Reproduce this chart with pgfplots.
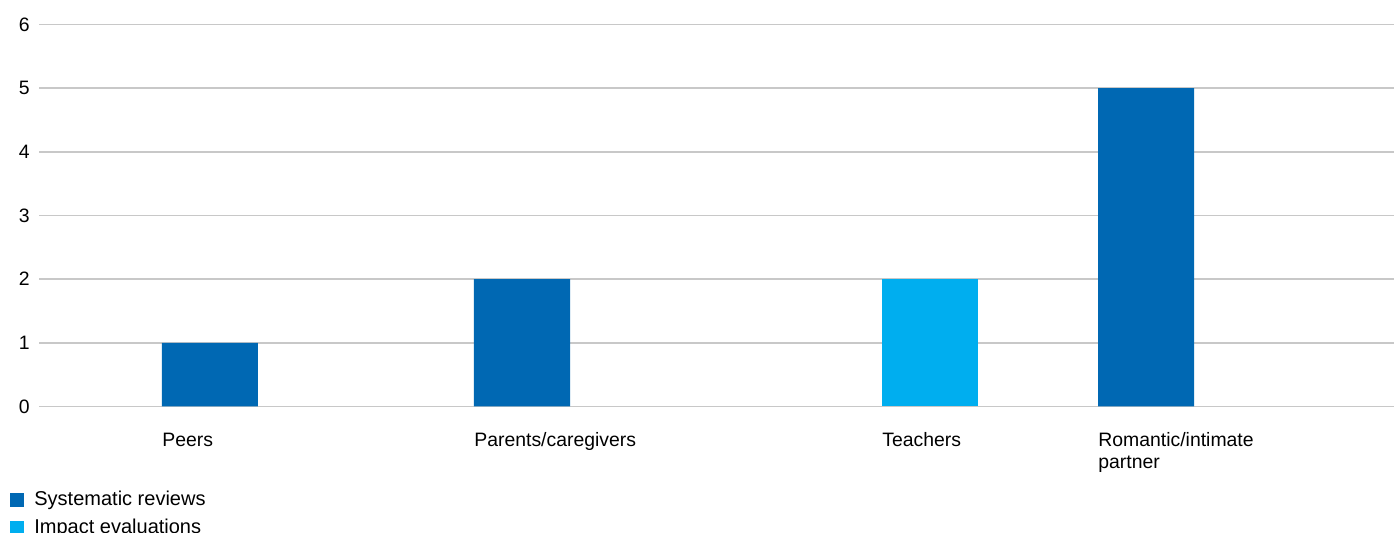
\documentclass[border=0pt]{standalone}
\usepackage{pgfplots}
\pgfplotsset{compat=1.18}
\usepackage{fontspec}
\setmainfont{Liberation Sans}
\definecolor{sysblue}{RGB}{0,104,179}
\definecolor{impblue}{RGB}{0,174,239}
\definecolor{gridgray}{RGB}{200,200,200}
\begin{document}
\begin{tikzpicture}
\begin{axis}[
  at={(19.5pt,63.25pt)}, anchor=south west,
  scale only axis, width=677.5pt, height=191pt,
  xmin=-0.7019, xmax=3.6410, ymin=0, ymax=6,
  ytick={0,1,2,3,4,5,6},
  ymajorgrids, grid style={color=gridgray, line width=0.75pt},
  axis line style={draw=none}, major tick length=0pt,
  xtick={-0.3077,0.6923,2,2.6923},
  xticklabels={Peers, Parents/caregivers, Teachers, {Romantic/intimate\\partner}},
  xticklabel style={anchor=north west, inner sep=0pt, align=left, yshift=-13pt, font=\fontsize{9.7}{11}\selectfont},
  yticklabel style={anchor=east, inner sep=0pt, xshift=-4.5pt, font=\fontsize{9.7}{11}\selectfont},
  /pgf/number format/assume math mode=true,
  legend style={at={(0,0)}, anchor=north west, xshift=-14.5pt, yshift=-40pt, draw=none, fill=none, inner sep=0pt, row sep=1.2pt, font=\fontsize{10}{11}\selectfont},
  legend cell align=left,
  legend image code/.code={\fill[#1] (0pt,-3.5pt) rectangle (7pt,3.5pt); \path (10pt,0pt);},
]
\addplot[ybar, fill=sysblue, draw=none, bar width=0.3077, /pgf/bar shift=-0.15385] coordinates {(0,1) (1,2) (3,5)};
\addlegendentry{Systematic reviews}
\addplot[ybar, fill=impblue, draw=none, bar width=0.3077, /pgf/bar shift=0.15385] coordinates {(2,2)};
\addlegendentry{Impact evaluations}
\end{axis}
\pgfresetboundingbox
\path[use as bounding box] (0,0) rectangle (697pt,266.5pt);
\end{tikzpicture}
\end{document}
